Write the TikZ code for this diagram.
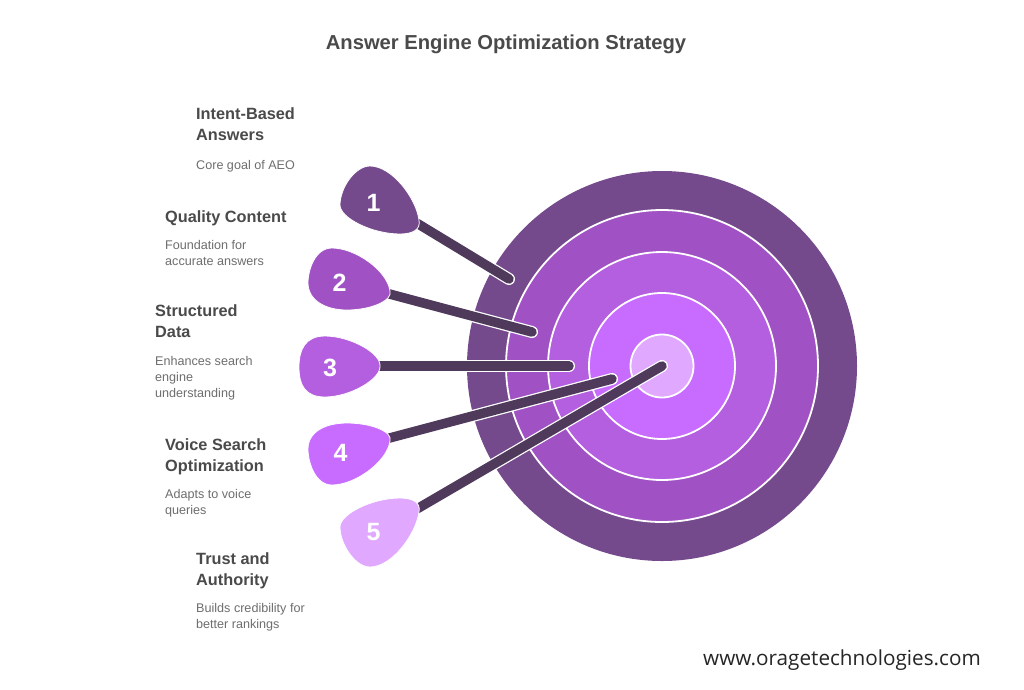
\documentclass[tikz,border=0pt]{standalone}
\usepackage{fontspec}
\setmainfont{Liberation Sans}
\newfontfamily\footfont{Open Sans}
\definecolor{cA}{HTML}{744A8C}
\definecolor{cB}{HTML}{A052C4}
\definecolor{cC}{HTML}{B45EE0}
\definecolor{cD}{HTML}{C86CFF}
\definecolor{cE}{HTML}{E0A8FF}
\definecolor{shaft}{HTML}{4F3A5C}
\definecolor{headc}{HTML}{4A4A4A}
\definecolor{descc}{HTML}{6E6E6E}
\tikzset{
  x=1pt,y=-1pt,
  ring/.style={draw=white,line width=1.8pt},
  flight/.style={draw=white,line width=0.8pt},
  num/.style={text=white,font=\fontsize{25}{25}\selectfont\bfseries,inner sep=0pt},
  headt/.style={anchor=north west,inner sep=0pt,align=left,text=headc,font=\fontsize{16.3}{21}\selectfont\bfseries},
  desct/.style={anchor=north west,inner sep=0pt,align=left,text=descc,font=\fontsize{12.6}{16}\selectfont},
  halo/.style={draw=white,line width=12pt,line cap=round},
  core/.style={draw=shaft,line width=9.5pt,line cap=round},
}
\newcommand{\dart}[2]{\draw[halo] (#1) -- (#2); \draw[core] (#1) -- (#2);}
\begin{document}
\begin{tikzpicture}
\useasboundingbox (0,0) rectangle (1024,689);
\fill[white] (0,0) rectangle (1024,689);
\node[text=headc,font=\fontsize{20.2}{24}\selectfont\bfseries,inner sep=0pt] (title) at (506,44) {Answer Engine Optimization Strategy};
% target
\node[circle,fill=cA,minimum size=390pt,inner sep=0pt] (t1) at (662,366) {};
\node[circle,ring,fill=cB,minimum size=312pt,inner sep=0pt] (t2) at (662,366) {};
\node[circle,ring,fill=cC,minimum size=228pt,inner sep=0pt] (t3) at (662,366) {};
\node[circle,ring,fill=cD,minimum size=146pt,inner sep=0pt] (t4) at (662,366) {};
\node[circle,ring,fill=cE,minimum size=63pt,inner sep=0pt] (t5) at (662,366) {};
% darts
\coordinate (s1) at (410,219); \coordinate (e1) at (509,279);
\coordinate (s2) at (382,292); \coordinate (e2) at (532,332);
\coordinate (s3) at (372,366); \coordinate (e3) at (569,366);
\coordinate (s4) at (382,440); \coordinate (e4) at (612,379);
\coordinate (s5) at (410,513); \coordinate (e5) at (662,366);
\dart{s1}{e1}\dart{s2}{e2}\dart{s3}{e3}\dart{s4}{e4}\dart{s5}{e5}
% flights
\draw[flight,fill=cA] (419,220) .. controls (416,198) and (392,166) .. (370,166) .. controls (355,166) and (340,188) .. (340,205) .. controls (340,218) and (372,234) .. (400,234) .. controls (412,234) and (421,230) .. (419,220) -- cycle;
\draw[flight,fill=cB] (390,291) .. controls (387,270) and (355,248) .. (332,248) .. controls (315,248) and (308,270) .. (308,283) .. controls (308,300) and (325,310) .. (347,310) .. controls (372,310) and (393,300) .. (390,291) -- cycle;
\draw[flight,fill=cC] (380,366) .. controls (381,353) and (350,336) .. (325,336) .. controls (305,336) and (299,350) .. (299,367) .. controls (299,385) and (305,397) .. (325,397) .. controls (350,397) and (381,379) .. (380,366) -- cycle;
\draw[flight,fill=cD] (390,441) .. controls (393,432) and (372,423) .. (347,423) .. controls (325,423) and (308,432) .. (308,449) .. controls (308,462) and (315,485) .. (332,485) .. controls (355,485) and (387,462) .. (390,441) -- cycle;
\draw[flight,fill=cE] (419,512) .. controls (421,502) and (412,498) .. (400,498) .. controls (372,498) and (340,514) .. (340,527) .. controls (340,544) and (355,567) .. (370,567) .. controls (392,567) and (416,534) .. (419,512) -- cycle;
\node[num] (n1) at (373.5,202.5) {1};
\node[num] (n2) at (339.5,282.5) {2};
\node[num] (n3) at (330,367.5) {3};
\node[num] (n4) at (340.5,452.5) {4};
\node[num] (n5) at (373.5,532.5) {5};
% labels
\node[headt] (h1) at (196,107.5) {Intent-Based\\Answers};
\node[desct] (d1) at (196,160) {Core goal of AEO};
\node[headt] (h2) at (165,210.5) {Quality Content};
\node[desct] (d2) at (165,240) {Foundation for\\accurate answers};
\node[headt] (h3) at (155,304) {Structured\\Data};
\node[desct] (d3) at (155,356) {Enhances search\\engine\\understanding};
\node[headt] (h4) at (165,438.5) {Voice Search\\Optimization};
\node[desct] (d4) at (165,489) {Adapts to voice\\queries};
\node[headt] (h5) at (196,552.5) {Trust and\\Authority};
\node[desct] (d5) at (196,603) {Builds credibility for\\better rankings};
\node[anchor=west,inner sep=0pt,text=black!85,font=\footfont\fontsize{20.7}{24}\selectfont] (site) at (703,660.5) {www.oragetechnologies.com};
\end{tikzpicture}
\end{document}
